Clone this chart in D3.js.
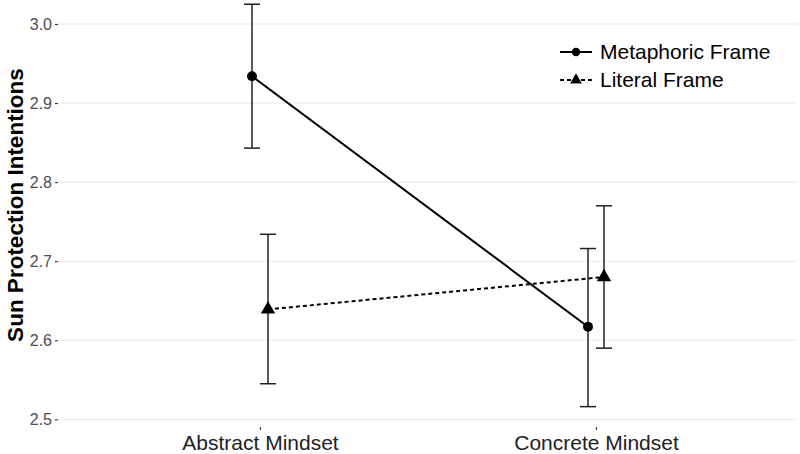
<!DOCTYPE html>
<html><head><meta charset="utf-8">
<script src="https://cdn.jsdelivr.net/npm/d3@7"></script>
<style>body{margin:0;background:#fff}svg{display:block}</style>
</head><body>
<svg id="chart" width="800" height="454"></svg>
<script>
const categories = ["Abstract Mindset", "Concrete Mindset"];
const seriesNames = ["Metaphoric Frame", "Literal Frame"];
const metaphoricMean = [2.934, 2.617];
const metaphoricLow  = [2.843, 2.516];
const metaphoricHigh = [3.025, 2.716];
const literalMean = [2.639, 2.680];
const literalLow  = [2.545, 2.590];
const literalHigh = [2.734, 2.770];
const yTicks = [2.5, 2.6, 2.7, 2.8, 2.9, 3.0];
const yTitle = "Sun Protection Intentions";

const svg = d3.select("#chart");
const panel = {left: 59, right: 797, top: 0, bottom: 425};

const x = d3.scalePoint().domain(categories).range([260, 596]);
const dodge = d3.scalePoint().domain(seriesNames).range([-8, 8]);
const y = d3.scaleLinear().domain([2.5, 3.0]).range([419.3, 24]);

const series = [
  {name: seriesNames[0], mean: metaphoricMean, low: metaphoricLow, high: metaphoricHigh, dash: null, shape: d3.symbolCircle},
  {name: seriesNames[1], mean: literalMean, low: literalLow, high: literalHigh, dash: "4,3", shape: d3.symbolTriangle}
];

// gridlines
svg.append("g").selectAll("line").data(yTicks).join("line")
  .attr("x1", panel.left).attr("x2", panel.right)
  .attr("y1", d => y(d)).attr("y2", d => y(d))
  .attr("stroke", "#e8e8e8").attr("stroke-width", 1.1);

// y axis
const yAxis = d3.axisLeft(y).tickValues(yTicks).tickFormat(d3.format(".1f")).tickSize(3).tickPadding(3);
const gy = svg.append("g").attr("transform", `translate(${panel.left - 1},0)`).call(yAxis);
gy.select(".domain").remove();
gy.selectAll(".tick line").attr("stroke", "#333").attr("stroke-width", 1.1);
gy.selectAll(".tick text").attr("fill", "#4d4d4d").attr("font-family", "Liberation Sans, Arial, sans-serif").attr("font-size", 16);

// x axis
const xAxis = d3.axisBottom(x).tickSize(3).tickPadding(5);
const gx = svg.append("g").attr("transform", `translate(0,${panel.bottom + 2})`).call(xAxis);
gx.select(".domain").remove();
gx.selectAll(".tick line").attr("stroke", "#333").attr("stroke-width", 1.1);
gx.selectAll(".tick text").attr("fill", "#222").attr("font-family", "Liberation Sans, Arial, sans-serif").attr("font-size", 21);

// y title
svg.append("text")
  .attr("transform", `translate(23,205) rotate(-90)`)
  .attr("text-anchor", "middle")
  .attr("font-family", "Liberation Sans, Arial, sans-serif")
  .attr("font-weight", "bold").attr("font-size", 22.5).attr("fill", "#000")
  .text(yTitle);

// lines
series.forEach(s => {
  const pts = categories.map((c, i) => [x(c) + dodge(s.name), y(s.mean[i])]);
  svg.append("path").attr("d", d3.line()(pts))
    .attr("fill", "none").attr("stroke", "#000").attr("stroke-width", 2)
    .attr("stroke-dasharray", s.dash);
});

// error bars
series.forEach(s => {
  const g = svg.append("g").attr("stroke", "#222").attr("stroke-width", 1.5);
  categories.forEach((c, i) => {
    const cx = x(c) + dodge(s.name);
    g.append("line").attr("x1", cx).attr("x2", cx).attr("y1", y(s.low[i])).attr("y2", y(s.high[i]));
    g.append("line").attr("x1", cx - 8).attr("x2", cx + 8).attr("y1", y(s.low[i])).attr("y2", y(s.low[i]));
    g.append("line").attr("x1", cx - 8).attr("x2", cx + 8).attr("y1", y(s.high[i])).attr("y2", y(s.high[i]));
  });
});

// points
series.forEach(s => {
  const size = s.shape === d3.symbolCircle ? 78 : 90;
  categories.forEach((c, i) => {
    const cx = x(c) + dodge(s.name);
    svg.append("path").attr("d", d3.symbol(s.shape, size)())
      .attr("transform", `translate(${cx},${y(s.mean[i])})`).attr("fill", "#000");
  });
});

// legend
const lg = svg.append("g").attr("transform", "translate(560,52)");
series.forEach((s, i) => {
  const row = lg.append("g").attr("transform", `translate(0,${i * 28})`);
  row.append("line").attr("x1", 0).attr("x2", 32).attr("y1", 0).attr("y2", 0)
    .attr("stroke", "#000").attr("stroke-width", 2).attr("stroke-dasharray", s.dash);
  row.append("path").attr("d", d3.symbol(s.shape, s.shape === d3.symbolCircle ? 55 : 60)())
    .attr("transform", "translate(16,0)").attr("fill", "#000");
  row.append("text").attr("x", 40).attr("y", 0).attr("dy", "0.35em")
    .attr("font-family", "Liberation Sans, Arial, sans-serif").attr("font-size", 21).attr("fill", "#000")
    .text(s.name);
});
</script>
</body></html>
